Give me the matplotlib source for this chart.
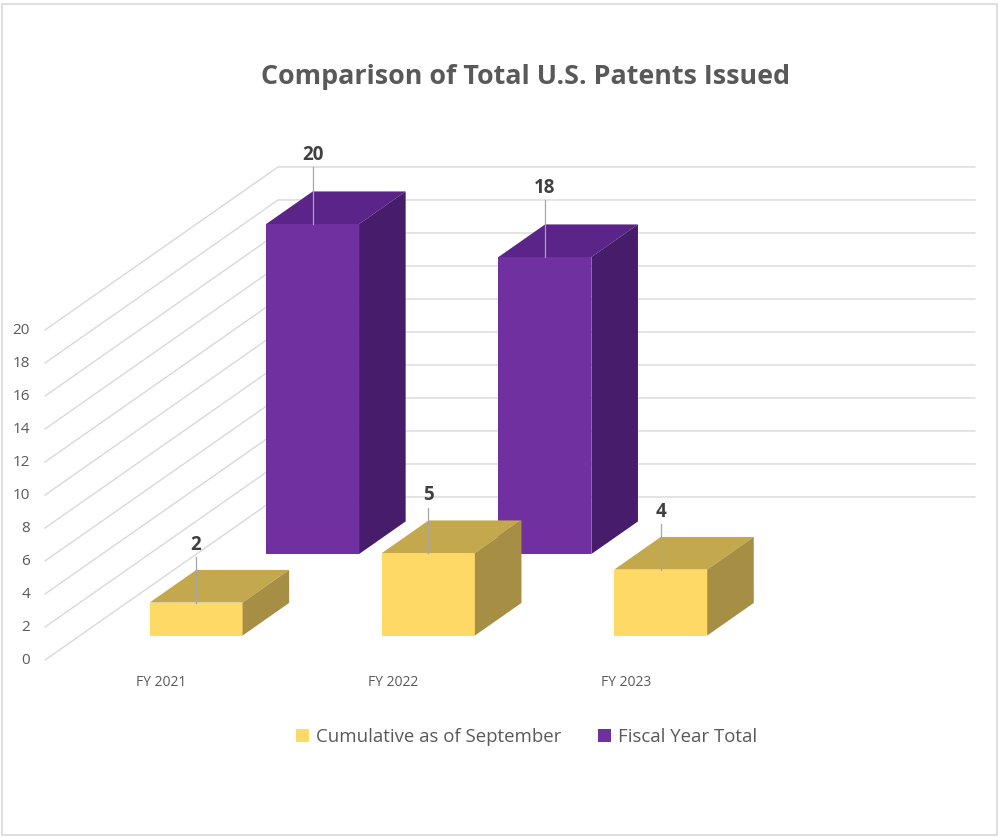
#!/usr/bin/env python3
"""Comparison of Total U.S. Patents Issued - Excel-style 3D column chart redrawn in matplotlib."""
from __future__ import annotations

import matplotlib

matplotlib.use("Agg")
import matplotlib.pyplot as plt
from matplotlib.patches import Polygon, Rectangle

# data
categories = ["FY 2021", "FY 2022", "FY 2023"]
series_names = ["Cumulative as of September", "Fiscal Year Total"]
cumulative_sept = [2, 5, 4]
fiscal_year_total = [20, 18, None]
y_ticks = list(range(0, 21, 2))

# style: (front, top, side) per series
_COLORS = [
    ("#FFD966", "#C4A84E", "#A68E45"),
    ("#7030A0", "#5A2488", "#461C6B"),
]
_GRID = "#D9D9D9"
_TEXT = "#595959"
_LABEL = "#404040"
_FONT = "Open Sans"

# oblique projection: one unit of depth (whole floor) shifts by this much in data units
_DX, _DY = 1.003, 9.88
_BAR_W = 0.4
_BAR_D = 0.2
_ROW_START = [0.15, 0.65]
_LABEL_GAP = [3.5, 4.2]


def _draw_prism(ax, x0: float, d0: float, h: float, colors, label=None, z: float = 2) -> None:
    front, top, side = colors
    x1 = x0 + _BAR_W
    d1 = d0 + _BAR_D
    ox0, oy0 = d0 * _DX, d0 * _DY
    ox1, oy1 = d1 * _DX, d1 * _DY
    ax.bar(x0 + ox0, h, width=_BAR_W, bottom=oy0, align="edge", color=front,
           linewidth=0, zorder=z, label=label)
    ax.add_patch(Polygon([(x0 + ox0, oy0 + h), (x1 + ox0, oy0 + h), (x1 + ox1, oy1 + h), (x0 + ox1, oy1 + h)],
                         closed=True, facecolor=top, edgecolor="none", zorder=z))
    ax.add_patch(Polygon([(x1 + ox0, oy0), (x1 + ox1, oy1), (x1 + ox1, oy1 + h), (x1 + ox0, oy0 + h)],
                         closed=True, facecolor=side, edgecolor="none", zorder=z))


def main() -> None:
    plt.rcParams["font.family"] = [_FONT, "DejaVu Sans"]
    fig = plt.figure(figsize=(9.99, 8.38), dpi=100)
    ax = fig.add_axes([0, 0, 1, 1])
    # data units: 1 category = 232.3 px, 1 value unit = 16.5 px, floor corner at (45, 660)
    ax.set_xlim(-45 / 232.3, (999 - 45) / 232.3)
    ax.set_ylim(-(838 - 660) / 16.5, 660 / 16.5)
    ax.axis("off")

    n = len(categories)
    # gridlines: side wall diagonals + back wall
    for v in y_ticks:
        ax.plot([0, _DX, n + _DX], [v, v + _DY, v + _DY], color=_GRID, lw=1.0, zorder=1)
        ax.text(-0.065, v, str(v), ha="right", va="center", fontsize=11, color=_TEXT)

    for i, cat in enumerate(categories):
        ax.text(i + 0.5, -1.35, cat, ha="center", va="center", fontsize=10, color=_TEXT)

    # back row first so the front row covers it
    all_series = [cumulative_sept, fiscal_year_total]
    for s in (1, 0):
        d0 = _ROW_START[s]
        for i, val in enumerate(all_series[s]):
            if val is None:
                continue
            _draw_prism(ax, i + 0.5 - _BAR_W / 2, d0, val, _COLORS[s],
                        label=series_names[s] if i == 0 else None, z=2 + (1 - s))
            xc = i + 0.5 + d0 * _DX
            ytop = d0 * _DY + val
            ylab = ytop + _LABEL_GAP[s]
            ax.plot([xc, xc], [ytop, ylab - 0.75], color="#A6A6A6", lw=0.9, zorder=5)
            ax.text(xc, ylab, str(val), ha="center", va="center", fontsize=13.5,
                    fontweight="bold", color=_LABEL, zorder=6)

    fig.text(0.526, 1 - 77 / 838, "Comparison of Total U.S. Patents Issued", ha="center", va="center",
             fontsize=19.4, fontweight="bold", color=_TEXT)

    handles, labels = ax.get_legend_handles_labels()
    order = [labels.index(name) for name in series_names]
    fig.legend([handles[k] for k in order], [labels[k] for k in order], loc="center",
               bbox_to_anchor=(0.527, 1 - 737 / 838), ncol=2, frameon=False,
               fontsize=13.4, handlelength=0.7, handleheight=0.7, handletextpad=0.35,
               columnspacing=2.0, labelcolor=_TEXT)

    fig.patches.append(Rectangle((1.5 / 999, 3 / 838), 995.5 / 999, 831 / 838, transform=fig.transFigure,
                                 fill=False, edgecolor=_GRID, lw=1.2))

    fig.savefig("out.png", dpi=100)
    plt.close(fig)


if __name__ == "__main__":
    main()
